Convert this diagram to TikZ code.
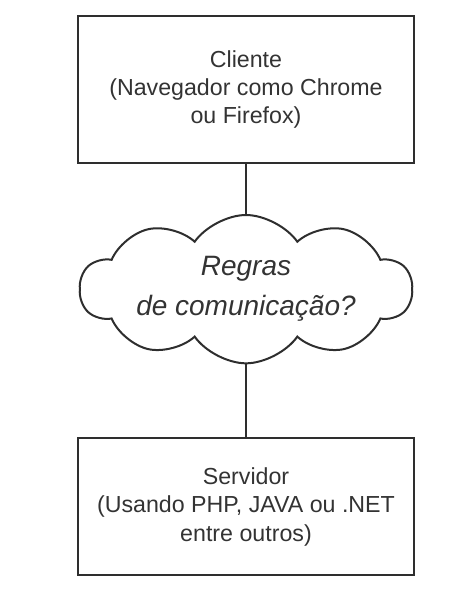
\documentclass[tikz,border=0pt]{standalone}
\usepackage{fontspec}
\setmainfont{Liberation Sans}
\usetikzlibrary{positioning,shapes.symbols}
\definecolor{Ink}{HTML}{333333}
\definecolor{Line}{HTML}{2E2E2E}
\tikzset{box/.style={draw=Line,line width=1pt,align=center,text=Ink,
    font=\fontsize{11.6}{14.2}\selectfont,minimum width=168pt,inner sep=4pt},
  nuvem/.style={cloud,cloud puffs=10,cloud puff arc=110,aspect=3,draw=Line,
    line width=1pt,align=center,text=Ink,inner sep=0pt,
    font=\fontsize{14}{20}\selectfont\itshape,minimum width=166pt,minimum height=67pt},
  edge/.style={draw=Line,line width=1pt}}
\begin{document}
\begin{tikzpicture}
  \useasboundingbox (0,0) rectangle (238pt,-303pt);
  \node[box,minimum height=73.5pt] (cli) at (123pt,-44.75pt) {Cliente\\(Navegador como Chrome\\ou Firefox)};
  \node[nuvem,below=25pt of cli] (reg) {Regras\\de comunica\c{c}\~ao?};
  \node[box,minimum height=68.5pt,below=36.5pt of reg] (srv) {Servidor\\(Usando PHP, JAVA ou .NET\\entre outros)};
  \draw[edge] (cli)--(reg); \draw[edge] (reg)--(srv);
\end{tikzpicture}
\end{document}
